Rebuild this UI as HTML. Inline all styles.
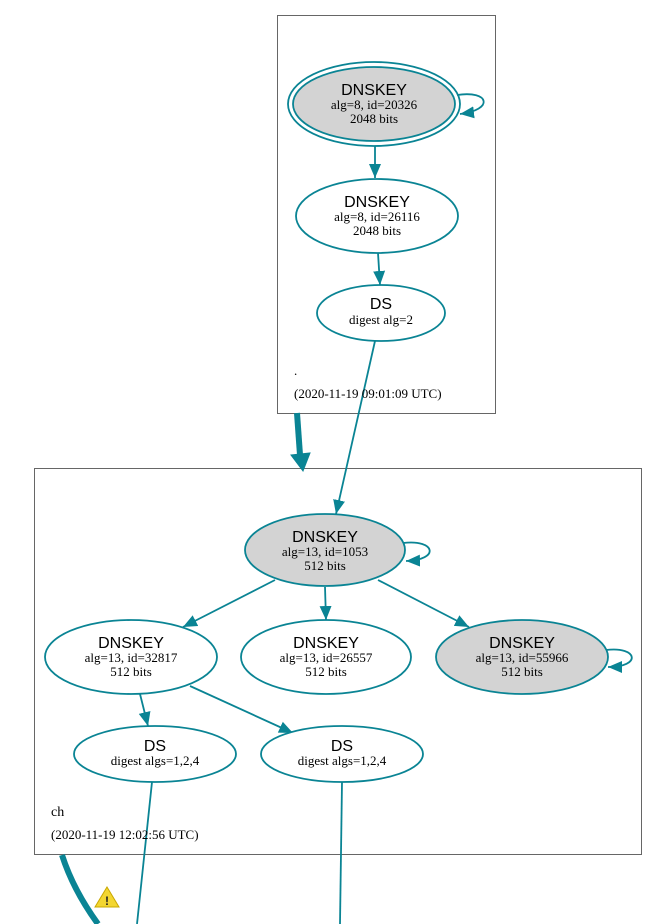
<!DOCTYPE html>
<html><head><meta charset="utf-8"><style>
html,body{margin:0;padding:0;background:#fff;}
svg{display:block;}
.s{font-family:"Liberation Sans",sans-serif;font-size:16px;}
.t{font-family:"Liberation Serif",serif;font-size:13px;}
</style></head><body>
<svg width="661" height="924" viewBox="0 0 661 924" xmlns="http://www.w3.org/2000/svg">
<defs>
<marker id="a" markerUnits="userSpaceOnUse" markerWidth="16" markerHeight="16" refX="14" refY="7" orient="auto">
<path d="M0,1 L14,7 L0,13 Z" fill="#0a8494"/>
</marker>
</defs>
<g fill="none" stroke="#666" stroke-width="1">
<rect x="277.5" y="15.5" width="218" height="398"/>
<rect x="34.5" y="468.5" width="607" height="386"/>
</g>
<g stroke="#0a8494" stroke-width="1.8" fill="none">
<ellipse cx="374" cy="104" rx="86" ry="42" fill="#fff"/>
<ellipse cx="374" cy="104" rx="81" ry="37" fill="#d3d3d3"/>
<path d="M457,95 C490,90 494,110 460,114" marker-end="url(#a)"/>
<line x1="375" y1="146" x2="375" y2="178" marker-end="url(#a)"/>
<ellipse cx="377" cy="216" rx="81" ry="37" fill="#fff"/>
<line x1="378" y1="253" x2="380" y2="285" marker-end="url(#a)"/>
<ellipse cx="381" cy="313" rx="64" ry="28" fill="#fff"/>
<line x1="375" y1="341" x2="336" y2="514" marker-end="url(#a)"/>
<line x1="297" y1="413" x2="300" y2="455" stroke-width="6"/>
<path d="M291,455 L310,453 L303,471 Z" fill="#0a8494" stroke-width="1"/>
<ellipse cx="325" cy="550" rx="80" ry="36" fill="#d3d3d3"/>
<path d="M403,543 C436,539 440,560 406,561" marker-end="url(#a)"/>
<line x1="275" y1="580" x2="183" y2="627" marker-end="url(#a)"/>
<line x1="325" y1="587" x2="326" y2="620" marker-end="url(#a)"/>
<line x1="378" y1="580" x2="469" y2="627" marker-end="url(#a)"/>
<ellipse cx="131" cy="657" rx="86" ry="37" fill="#fff"/>
<ellipse cx="326" cy="657" rx="85" ry="37" fill="#fff"/>
<ellipse cx="522" cy="657" rx="86" ry="37" fill="#d3d3d3"/>
<path d="M606,650 C638,646 642,667 608,667" marker-end="url(#a)"/>
<line x1="140" y1="694" x2="148" y2="726" marker-end="url(#a)"/>
<line x1="190" y1="686" x2="293" y2="733" marker-end="url(#a)"/>
<ellipse cx="155" cy="754" rx="81" ry="28" fill="#fff"/>
<ellipse cx="342" cy="754" rx="81" ry="28" fill="#fff"/>
<line x1="152" y1="782" x2="137" y2="924"/>
<line x1="342" y1="782" x2="340" y2="924"/>
<path d="M62,855 C70,880 82,902 98,924" stroke-width="6"/>
</g>
<path d="M107,887 L119,907 L95,907 Z" fill="#f3d631" stroke="#c9a800" stroke-width="1"/>
<text x="107" y="905" text-anchor="middle" font-family="Liberation Sans,sans-serif" font-size="12" font-weight="bold" fill="#222">!</text>
<g text-anchor="middle" fill="#000">
<text class="s" x="374" y="95">DNSKEY</text>
<text class="t" x="374" y="109">alg=8, id=20326</text>
<text class="t" x="374" y="123">2048 bits</text>
<text class="s" x="377" y="207">DNSKEY</text>
<text class="t" x="377" y="221">alg=8, id=26116</text>
<text class="t" x="377" y="235">2048 bits</text>
<text class="s" x="381" y="309">DS</text>
<text class="t" x="381" y="324">digest alg=2</text>
<text class="s" x="325" y="542">DNSKEY</text>
<text class="t" x="325" y="556">alg=13, id=1053</text>
<text class="t" x="325" y="570">512 bits</text>
<text class="s" x="131" y="648">DNSKEY</text>
<text class="t" x="131" y="662">alg=13, id=32817</text>
<text class="t" x="131" y="676">512 bits</text>
<text class="s" x="326" y="648">DNSKEY</text>
<text class="t" x="326" y="662">alg=13, id=26557</text>
<text class="t" x="326" y="676">512 bits</text>
<text class="s" x="522" y="648">DNSKEY</text>
<text class="t" x="522" y="662">alg=13, id=55966</text>
<text class="t" x="522" y="676">512 bits</text>
<text class="s" x="155" y="751">DS</text>
<text class="t" x="155" y="765">digest algs=1,2,4</text>
<text class="s" x="342" y="751">DS</text>
<text class="t" x="342" y="765">digest algs=1,2,4</text>
</g>
<text class="t" x="294" y="375">.</text>
<text class="t" x="294" y="398">(2020-11-19 09:01:09 UTC)</text>
<text class="t" x="51" y="816" style="font-size:14px">ch</text>
<text class="t" x="51" y="839">(2020-11-19 12:02:56 UTC)</text>
</svg>
</body></html>
